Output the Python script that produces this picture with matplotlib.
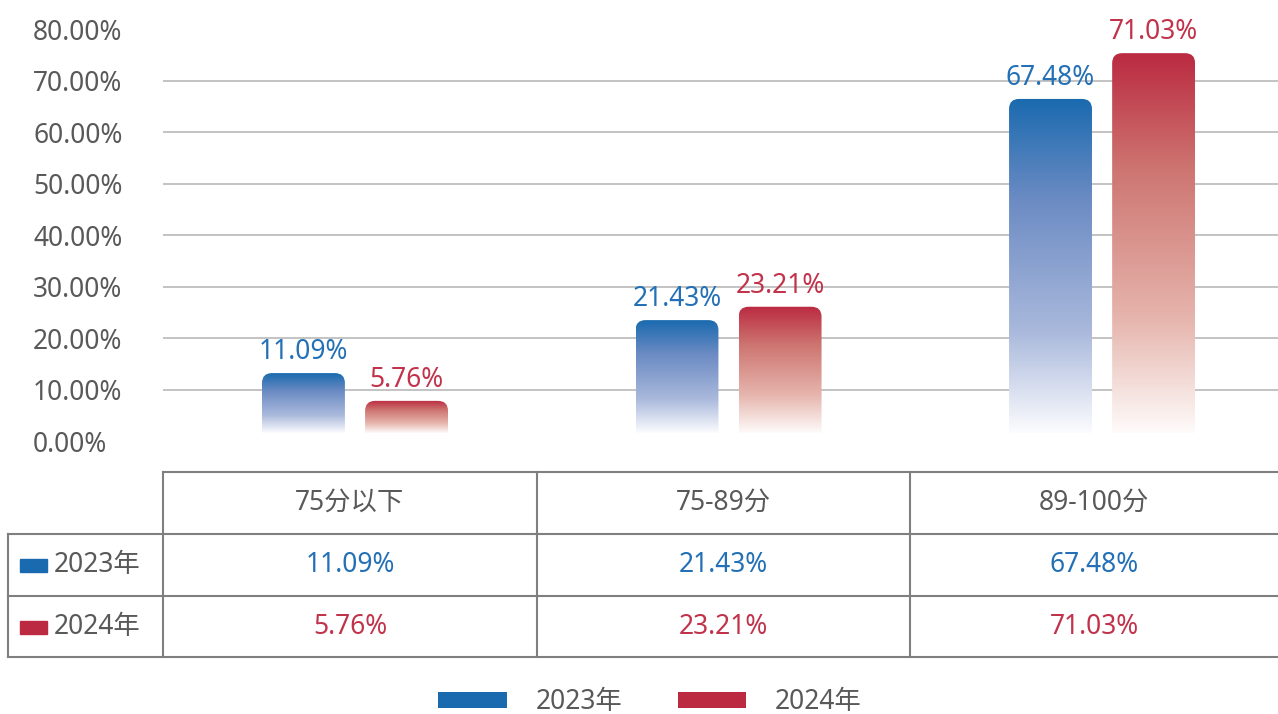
import matplotlib
matplotlib.use('Agg')
import matplotlib.pyplot as plt
import numpy as np
from matplotlib.colors import LinearSegmentedColormap
from matplotlib.patches import FancyBboxPatch, Patch, Rectangle

plt.rcParams['font.family'] = ['Noto Sans', 'Noto Sans CJK SC']
plt.rcParams['font.weight'] = 'light'

# Data
categories = ['75分以下', '75-89分', '89-100分']
series_names = ['2023年', '2024年']
values_2023 = [11.09, 21.43, 67.48]
values_2024 = [5.76, 23.21, 71.03]
# bar heights as drawn in the picture (axis units)
bar_h_2023 = [13.2, 23.5, 66.5]
bar_h_2024 = [7.8, 26.1, 75.4]
yticks = [0, 10, 20, 30, 40, 50, 60, 70, 80]

W, H = 1278, 714
BLUE = '#1a6aaf'
RED = '#bb2a41'
BLUE_TXT = '#2370b6'
RED_TXT = '#c1334b'
GRAY = '#595959'
LINE = '#7f7f7f'
FS = 19

fig = plt.figure(figsize=(W / 100, H / 100), dpi=100)

# Main bar chart
ax = fig.add_axes([163 / W, 1 - 441 / H, (W - 163) / W, (441 - 29.5) / H])
ax.set_xlim(-0.514, 2.471)
ax.set_ylim(0, 80)
for s in ax.spines.values():
    s.set_visible(False)
ax.set_xticks([])
ax.set_yticks(yticks)
ax.set_yticklabels(['%.2f%%' % v for v in yticks])
ax.tick_params(axis='y', length=0, pad=93.6, labelsize=FS, labelcolor=GRAY)
for lab in ax.get_yticklabels():
    lab.set_horizontalalignment('left')
ax.yaxis.grid(True, color='#b3b3b3', linewidth=1.1)
ax.get_ygridlines()[0].set_visible(False)
ax.set_axisbelow(True)

# pixel scales for rounded corners
px_x = ax.get_position().width * W / (2.471 + 0.514)
px_y = ax.get_position().height * H / 80
aspect = px_x / px_y
radius = 10 / px_x
base = 8 / px_y  # bars fade out a little above the zero line

cmap_blue = LinearSegmentedColormap.from_list(
    'b', [(0, '#fbfcfe'), (0.3, '#aab9dc'), (0.7, '#6b8bc3'), (1, BLUE)])
cmap_red = LinearSegmentedColormap.from_list(
    'r', [(0, '#fefbfa'), (0.3, '#e6b5ad'), (0.7, '#cd7470'), (1, RED)])
grad = np.linspace(0, 1, 256).reshape(-1, 1)

x = np.arange(len(categories))
off = 0.138
width = 0.222


def draw_bars(xpos, heights, values, cmap, txtcolor):
    rects = ax.bar(xpos, np.array(heights) - base, width, bottom=base)
    for rect, val in zip(rects, values):
        x0, y0, w, h = rect.get_x(), rect.get_y(), rect.get_width(), rect.get_height()
        rect.remove()
        patch = FancyBboxPatch((x0, y0 - 3), w, h + 3,
                               boxstyle='round,pad=0,rounding_size=%f' % radius,
                               mutation_aspect=aspect, fc='none', ec='none')
        ax.add_patch(patch)
        im = ax.imshow(grad, cmap=cmap, extent=[x0, x0 + w, y0, y0 + h],
                       origin='lower', aspect='auto', zorder=2)
        im.set_clip_path(patch)
        ax.annotate('%.2f%%' % val, (x0 + w / 2, y0 + h), xytext=(0, 5),
                    textcoords='offset points', ha='center', va='bottom',
                    fontsize=FS, color=txtcolor)


draw_bars(x - off, bar_h_2023, values_2023, cmap_blue, BLUE_TXT)
draw_bars(x + off, bar_h_2024, values_2024, cmap_red, RED_TXT)
ax.set_xlim(-0.514, 2.471)
ax.set_ylim(0, 80)

# Data table drawn in pixel coordinates
tab = fig.add_axes([0, 0, 1, 1])
tab.set_xlim(0, W)
tab.set_ylim(H, 0)
tab.axis('off')

col_edges = [163, 537, 910]
row_lines = [472, 534, 596, 657]
tab.plot([163, W], [row_lines[0]] * 2, color=LINE, lw=1.5)
for y in row_lines[1:]:
    tab.plot([8, W], [y, y], color=LINE, lw=1.5)
tab.plot([8, 8], [534, 657], color=LINE, lw=1.5)
for cx in col_edges:
    tab.plot([cx, cx], [472, 657], color=LINE, lw=1.5)

centers = [(163 + 537) / 2, (537 + 910) / 2, (910 + W) / 2]
for cx, cat, v23, v24 in zip(centers, categories, values_2023, values_2024):
    tab.text(cx, 503, cat, ha='center', va='center', fontsize=FS, color=GRAY)
    tab.text(cx, 565, '%.2f%%' % v23, ha='center', va='center', fontsize=FS, color=BLUE_TXT)
    tab.text(cx, 627, '%.2f%%' % v24, ha='center', va='center', fontsize=FS, color=RED_TXT)

for yc, name, col in zip([565, 627], series_names, [BLUE, RED]):
    tab.add_patch(Rectangle((20, yc - 6.5), 27, 13, color=col))
    tab.text(54, yc, name, ha='left', va='center', fontsize=FS, color=GRAY)

# Legend
handles = [Patch(facecolor=BLUE, edgecolor='none'), Patch(facecolor=RED, edgecolor='none')]
leg = fig.legend(handles, series_names, loc='center', bbox_to_anchor=(650 / W, 1 - 702 / H),
                 ncol=2, frameon=False, fontsize=FS, handlelength=2.58, handleheight=0.57,
                 handletextpad=1.1, columnspacing=2.1)
for t in leg.get_texts():
    t.set_color(GRAY)

fig.savefig('out.png', dpi=100)
